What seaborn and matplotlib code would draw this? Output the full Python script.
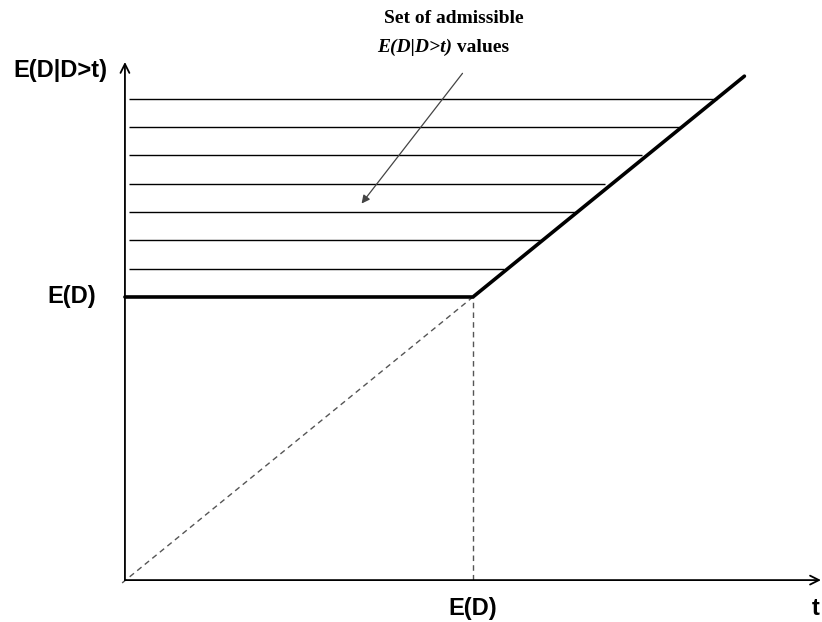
import numpy as np
import pandas as pd
import matplotlib
matplotlib.use("Agg")
import matplotlib.pyplot as plt
import seaborn as sns

sns.set_theme(style="white")
plt.rcParams['font.family'] = ['Liberation Sans', 'DejaVu Sans']

# E(D) normalised to 1: E(D|D>t) = E(D) for t < E(D), then = t
t_curve = [0.0, 1.0, 1.78]
cond_mean = [1.0, 1.0, 1.78]

# hatch lines above the curve (admissible set)
hatch_levels = [1.1, 1.2, 1.3, 1.4, 1.5, 1.6, 1.7]
hatch_ends = [1.09, 1.195, 1.30, 1.38, 1.485, 1.595, 1.70]

diag_x = [0.0, 1.0]
diag_y = [0.0, 1.0]

fig = plt.figure(figsize=(8.22, 6.22), dpi=100)
ax = fig.add_axes([0, 0, 1, 1])

# hatch lines
ax.hlines(hatch_levels, 0.012, hatch_ends, color="black", lw=1.0)

# dashed guides
ax.plot([-0.008, diag_x[1]], [-0.01, diag_y[1]], color="#555555", lw=1.0, ls=(0, (4, 3)))
ax.plot([1.0, 1.0], [0.0, 1.0], color="#555555", lw=1.0, ls=(0, (4, 3)))

# main curve
df = pd.DataFrame({"t": t_curve, "E": cond_mean})
sns.lineplot(data=df, x="t", y="E", color="black", lw=2.6, ax=ax,
             sort=False, solid_capstyle="round")

# axes arrows
ax.annotate("", xy=(0.0, 1.83), xytext=(0.0, 0.0),
            arrowprops=dict(arrowstyle="->", color="black", lw=1.3,
                            mutation_scale=16, shrinkA=0, shrinkB=0))
ax.annotate("", xy=(2.0, 0.0), xytext=(0.0, 0.0),
            arrowprops=dict(arrowstyle="->", color="black", lw=1.3,
                            mutation_scale=16, shrinkA=0, shrinkB=0))

# labels
lab = dict(fontsize=17, fontweight="bold", color="black")
ax.text(-0.186, 1.80, "E(D|D>t)", ha="center", va="center", **lab)
ax.text(-0.154, 1.0, "E(D)", ha="center", va="center", **lab)
ax.text(1.0, -0.10, "E(D)", ha="center", va="center", **lab)
ax.text(1.985, -0.10, "t", ha="center", va="center", **lab)

# annotation text
serif = dict(fontsize=14, fontweight="bold", family="Liberation Serif", color="black")
ax.text(0.945, 1.985, "Set of admissible", ha="center", va="center", **serif)
t1 = ax.text(0.725, 1.865, "E(D|D>t)", ha="left", va="baseline",
             fontstyle="italic", **serif)
ax.annotate(" values", xy=(1, 0), xycoords=t1, ha="left", va="bottom", **serif)

ax.annotate("", xy=(0.68, 1.33), xytext=(0.97, 1.79),
            arrowprops=dict(arrowstyle="-|>", color="#444444", lw=0.9,
                            mutation_scale=12, shrinkA=0, shrinkB=0))

ax.set_xlim(-0.359, 2.003)
ax.set_ylim(-0.148, 2.049)
ax.axis("off")

fig.savefig("out.png", dpi=100)
